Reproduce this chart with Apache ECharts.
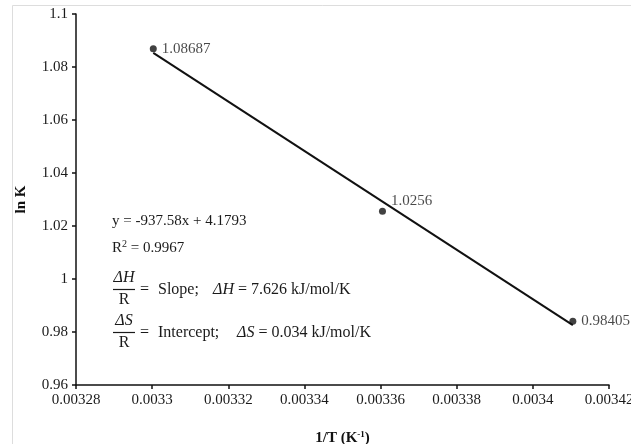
<!DOCTYPE html>
<html>
<head>
<meta charset="utf-8">
<script src="https://cdn.jsdelivr.net/npm/echarts@6/dist/echarts.min.js"></script>
<style>
  html, body { margin: 0; padding: 0; background: #fff; }
  #chart { width: 631px; height: 444px; }
</style>
</head>
<body>
<div id="chart"></div>
<script>
// 1/T values and ln K
const invT = [0.0033003, 0.0033605, 0.0034105];
const lnK = [1.08687, 1.0256, 0.98405];
const pointLabels = ['1.08687', '1.0256', '0.98405'];

// ends of the drawn trend line
const trendX = [0.0033003, 0.0034105];
const trendY = [1.0853, 0.9826];

const serif = '"Liberation Serif", "Times New Roman", serif';
const ink = '#111';
const txt = '#1a1a1a';

const chart = echarts.init(document.getElementById('chart'));

const points = invT.map(function (x, i) {
  const item = { value: [x, lnK[i]], label: { formatter: pointLabels[i] } };
  if (i === 1) {
    item.label.offset = [0, -10];
  }
  return item;
});

const option = {
  backgroundColor: '#fff',
  animation: false,
  grid: { left: 76, right: 22, top: 14, bottom: 59, outerBoundsMode: 'none' },
  xAxis: {
    type: 'value',
    min: 0.00328,
    max: 0.00342,
    interval: 0.00002,
    name: '1/T (K{sup|-1})',
    nameLocation: 'middle',
    nameGap: 45,
    nameTextStyle: {
      fontFamily: serif, fontSize: 15, fontWeight: 'bold', color: ink,
      rich: { sup: { fontFamily: serif, fontSize: 9, fontWeight: 'bold', color: ink, verticalAlign: 'top', padding: [0, 0, 7, 0] } }
    },
    axisLine: { lineStyle: { color: ink, width: 1.5 } },
    axisTick: { length: 4, lineStyle: { color: ink, width: 1.5 } },
    axisLabel: {
      fontFamily: serif, fontSize: 15, color: txt, margin: 8,
      formatter: function (v) { return String(parseFloat(v.toFixed(5))); }
    },
    splitLine: { show: false }
  },
  yAxis: {
    type: 'value',
    min: 0.96,
    max: 1.1,
    interval: 0.02,
    name: 'ln K',
    nameLocation: 'middle',
    nameGap: 47,
    nameTextStyle: { fontFamily: serif, fontSize: 15, fontWeight: 'bold', color: ink },
    axisLine: { show: true, lineStyle: { color: ink, width: 1.5 } },
    axisTick: { show: true, length: 4, lineStyle: { color: ink, width: 1.5 } },
    axisLabel: {
      fontFamily: serif, fontSize: 15, color: txt, margin: 8,
      formatter: function (v) { return String(parseFloat(v.toFixed(2))); }
    },
    splitLine: { show: false }
  },
  series: [
    {
      type: 'line',
      data: trendX.map(function (x, i) { return [x, trendY[i]]; }),
      showSymbol: false,
      lineStyle: { color: ink, width: 2 },
      z: 2
    },
    {
      type: 'scatter',
      data: points,
      symbolSize: 7,
      itemStyle: { color: ink },
      label: {
        show: true,
        position: 'right',
        distance: 5,
        fontFamily: serif,
        fontSize: 15,
        color: txt
      },
      z: 3
    }
  ],
  graphic: [
    {
      type: 'rect', silent: true, z: -1,
      shape: { x: 12.5, y: 5.5, width: 700, height: 500 },
      style: { fill: 'none', stroke: '#ddd', lineWidth: 1 }
    },
    {
      type: 'text', x: 112, y: 221,
      style: { text: 'y = -937.58x + 4.1793', font: '15px ' + serif, fill: txt, verticalAlign: 'middle' }
    },
    {
      type: 'text', x: 112, y: 248,
      style: {
        text: 'R{sup|2} = 0.9967', font: '15px ' + serif, fill: txt, verticalAlign: 'middle',
        rich: { sup: { font: '10px ' + serif, fill: txt, verticalAlign: 'top', padding: [0, 0, 7, 0] } }
      }
    },
    // dH / R = slope
    {
      type: 'text', x: 124, y: 278,
      style: { text: 'ΔH', font: 'italic 16px ' + serif, fill: txt, align: 'center', verticalAlign: 'middle' }
    },
    {
      type: 'line', shape: { x1: 113, y1: 289.5, x2: 135, y2: 289.5 },
      style: { stroke: txt, lineWidth: 1.2 }
    },
    {
      type: 'text', x: 124, y: 300,
      style: { text: 'R', font: '16px ' + serif, fill: txt, align: 'center', verticalAlign: 'middle' }
    },
    {
      type: 'text', x: 140, y: 290,
      style: { text: '=', font: '16px ' + serif, fill: txt, verticalAlign: 'middle' }
    },
    {
      type: 'text', x: 158, y: 290,
      style: { text: 'Slope;', font: '16px ' + serif, fill: txt, verticalAlign: 'middle' }
    },
    {
      type: 'text', x: 213, y: 290,
      style: {
        text: '{i|ΔH} = 7.626 kJ/mol/K', font: '16px ' + serif, fill: txt, verticalAlign: 'middle',
        rich: { i: { font: 'italic 16px ' + serif, fill: txt } }
      }
    },
    // dS / R = intercept
    {
      type: 'text', x: 124, y: 321,
      style: { text: 'ΔS', font: 'italic 16px ' + serif, fill: txt, align: 'center', verticalAlign: 'middle' }
    },
    {
      type: 'line', shape: { x1: 113, y1: 332.5, x2: 135, y2: 332.5 },
      style: { stroke: txt, lineWidth: 1.2 }
    },
    {
      type: 'text', x: 124, y: 343,
      style: { text: 'R', font: '16px ' + serif, fill: txt, align: 'center', verticalAlign: 'middle' }
    },
    {
      type: 'text', x: 140, y: 333,
      style: { text: '=', font: '16px ' + serif, fill: txt, verticalAlign: 'middle' }
    },
    {
      type: 'text', x: 158, y: 333,
      style: { text: 'Intercept;', font: '16px ' + serif, fill: txt, verticalAlign: 'middle' }
    },
    {
      type: 'text', x: 237, y: 333,
      style: {
        text: '{i|ΔS} = 0.034 kJ/mol/K', font: '16px ' + serif, fill: txt, verticalAlign: 'middle',
        rich: { i: { font: 'italic 16px ' + serif, fill: txt } }
      }
    }
  ]
};

chart.setOption(option);
</script>
</body>
</html>
